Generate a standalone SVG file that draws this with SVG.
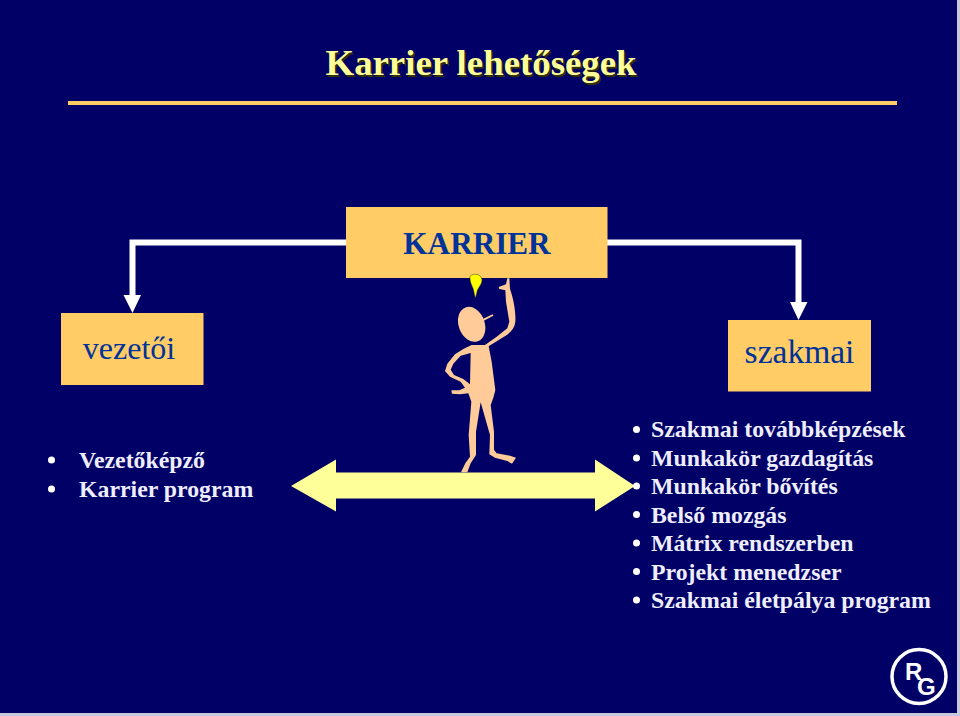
<svg xmlns="http://www.w3.org/2000/svg" width="960" height="716" viewBox="0 0 960 716">
<style>
.b{fill:#ffcc66}
.t{font-family:"Liberation Serif","Times New Roman",serif}
.c{fill:#003399;font-size:32px;text-anchor:middle;font-weight:400}
.k{font-weight:700;font-size:31.200px}
.l{fill:#eeeeff;font-size:23.800px;font-weight:700}
.w{fill:none;stroke:#fff;stroke-width:6}
.a{fill:#fff}
</style>
<rect width="960" height="716" fill="#c8c8dc"/>
<rect width="957" height="713" fill="#000066"/>
<g id="title">
<text class="t" x="481" y="75" text-anchor="middle" font-size="36.800" font-weight="700" fill="#333300" transform="translate(1.500 1.500)">Karrier lehetőségek</text>
<text class="t" x="481" y="75" text-anchor="middle" font-size="36.800" font-weight="700" fill="#ffff99">Karrier lehetőségek</text>
<rect x="68" y="101" width="829" height="4" fill="#ffcc66"/>
</g>
<g id="connectors">
<path class="w" d="M346 242.500H132.500V296"/>
<path class="a" d="M123.500 295H141L132.500 313Z"/>
<path class="w" d="M607 242.500H798.500V303"/>
<path class="a" d="M790 302H807.500L798.500 320Z"/>
</g>
<g id="karrier"><rect class="b" x="346" y="207" width="261.500" height="71"/><text class="t c k" x="477" y="254">KARRIER</text></g>
<g id="vezetoi"><rect class="b" x="61" y="313" width="142.500" height="72"/><text class="t c" x="129" y="359">vezetői</text></g>
<g id="szakmai"><rect class="b" x="728" y="320" width="143" height="71.500"/><text class="t c" x="799.500" y="363" style="font-size:33.500px">szakmai</text></g>
<g id="range-arrow">
<path d="M291 486L336 459.500V472.500H595V459.500L635 486L595 511.500V498.500H336V511.500Z" fill="#ffff99"/>
</g>
<g id="figure" transform="translate(430 265) scale(.33333)">
<path d="M120 40C118 30 128 28 137 28C148 28 155 35 156 45C156 56 146 68 142 76C140 85 138 95 136 98C133 90 132 80 130 72C126 62 120 52 120 40Z" fill="#ffff00" stroke="#333" stroke-width="1.500"/>
<g fill="#ffcc99">
<ellipse cx="125" cy="178" rx="39" ry="54" transform="rotate(-20 125 178)"/>
<path d="M158 162L188 148L190 152L160 168Z"/>
<path fill-rule="evenodd" d="M232 40L238 40L240 72C250 100 258 140 256 170C254 190 240 205 222 215C205 225 190 235 176 244L185 290L196 375L190 398L182 420L192 500L192 555L200 565L240 572L258 578L246 596L232 588L195 578L178 568L180 510L152 412L138 500L138 570L122 595L112 622H93L106 595L120 575L116 510L124 410L115 385L90 388L66 386L64 376L88 376L105 368L92 350L60 335L45 318L52 296L75 268L100 252L125 240H165L200 215L232 190L238 170L228 110L226 76L208 72L206 66L228 58ZM122 264L92 272L70 296L62 314L72 330L100 342L120 358Z"/>
</g>
</g>
<g id="left-list" class="t">
<circle class="a" cx="51.500" cy="460" r="3.500"/>
<circle class="a" cx="51.500" cy="489" r="3.500"/>
<text class="l" x="79" y="468">Vezetőképző</text>
<text class="l" x="79" y="497">Karrier program</text>
</g>
<g id="right-list" class="t">
<circle class="a" cx="636.500" cy="429.500" r="3.500"/>
<circle class="a" cx="636.500" cy="458" r="3.500"/>
<circle class="a" cx="636.500" cy="486" r="3.500"/>
<circle class="a" cx="636.500" cy="514.500" r="3.500"/>
<circle class="a" cx="636.500" cy="543" r="3.500"/>
<circle class="a" cx="636.500" cy="571.500" r="3.500"/>
<circle class="a" cx="636.500" cy="600" r="3.500"/>
<text class="l" x="651" y="437">Szakmai továbbképzések</text>
<text class="l" x="651" y="466">Munkakör gazdagítás</text>
<text class="l" x="651" y="494">Munkakör bővítés</text>
<text class="l" x="651" y="523">Belső mozgás</text>
<text class="l" x="651" y="551">Mátrix rendszerben</text>
<text class="l" x="651" y="580">Projekt menedzser</text>
<text class="l" x="651" y="608">Szakmai életpálya program</text>
</g>
<g id="logo">
<circle cx="919" cy="676.500" r="27" fill="none" stroke="#fff" stroke-width="3.500"/>
<text x="905" y="680" font-family="Liberation Sans,Arial,sans-serif" font-weight="700" font-size="24" fill="#fff">R</text>
<text x="917" y="695" font-family="Liberation Sans,Arial,sans-serif" font-weight="700" font-size="24" fill="#fff">G</text>
</g>
</svg>
